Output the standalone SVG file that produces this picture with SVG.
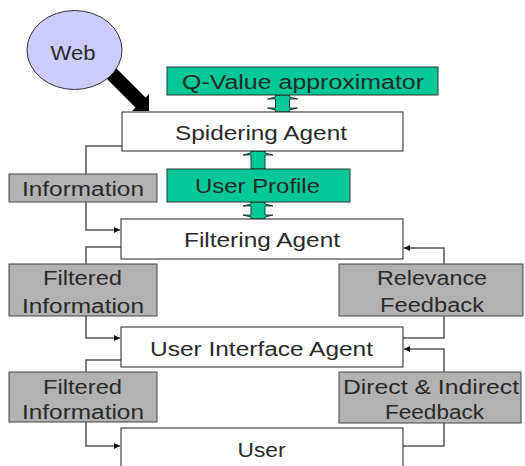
<svg xmlns="http://www.w3.org/2000/svg" width="525" height="466" viewBox="0 0 525 466">
<defs>
<style>
.t{font-family:"Liberation Sans",Arial,sans-serif;font-size:20px;fill:#2a2a2a;text-anchor:middle}
.wb{fill:#fff;stroke:#222;stroke-width:1}
.gb{fill:#B2B2B2;stroke:#444;stroke-width:1}
.gr{fill:#00C896;stroke:#333;stroke-width:1}
.ln{fill:none;stroke:#555;stroke-width:1.5}
.ga{fill:#00C896;stroke:#111;stroke-width:0.8}
</style>
<marker id="ah" viewBox="0 0 10 10" refX="10" refY="5" markerWidth="7" markerHeight="6" markerUnits="userSpaceOnUse" orient="auto">
<path d="M0,0 L10,5 L0,10 Z" fill="#111"/>
</marker>
</defs>
<rect width="525" height="466" fill="#fff"/>

<g id="connectors">
<polyline class="ln" points="122,146 86,146 86,174"/>
<polyline class="ln" points="86,202 86,230 120,230" marker-end="url(#ah)"/>
<polyline class="ln" points="121,247 86,247 86,264"/>
<polyline class="ln" points="86,316 86,338 120,338" marker-end="url(#ah)"/>
<polyline class="ln" points="121,360 86,360 86,372"/>
<polyline class="ln" points="86,422 86,446 120,446" marker-end="url(#ah)"/>
<polyline class="ln" points="403,338 444,338 444,316"/>
<polyline class="ln" points="444,264 444,248 404,248" marker-end="url(#ah)"/>
<polyline class="ln" points="403,446 444,446 444,423"/>
<polyline class="ln" points="444,372 444,349 404,349" marker-end="url(#ah)"/>
<polygon points="115,67 145.5,97.5 149,94 149,111 132,111 135.5,107.5 105,77" fill="#000"/>
<path class="ga" d="M275.5,95 L289.5,95 L289.5,97 L297.5,99 L289.5,99 L289.5,108 L297.5,108 L289.5,110 L289.5,112 L275.5,112 L275.5,110 L267.5,108 L275.5,108 L275.5,99 L267.5,99 L275.5,97 Z"/>
<path class="ga" d="M251,151 L265,151 L265,153 L273,155 L265,155 L265,169 L251,169 L251,155 L243,155 L251,153 Z"/>
<path class="ga" d="M251,202 L265,202 L265,204 L273,206 L265,206 L265,215 L273,215 L265,217 L265,219 L251,219 L251,217 L243,215 L251,215 L251,206 L243,206 L251,204 Z"/>
</g>

<g id="web">
<ellipse cx="74.5" cy="50" rx="47.5" ry="39.5" fill="#CCCCFF" stroke="#333" stroke-width="1"/>
<text class="t" x="73" y="60" textLength="45" lengthAdjust="spacingAndGlyphs">Web</text>
</g>

<g id="qvalue">
<rect class="gr" x="167" y="67" width="271" height="28"/>
<text class="t" x="303" y="89" textLength="242" lengthAdjust="spacingAndGlyphs">Q-Value approximator</text>
</g>

<g id="spidering">
<rect class="wb" x="122" y="112" width="281" height="39"/>
<text class="t" x="261" y="140" textLength="172" lengthAdjust="spacingAndGlyphs">Spidering Agent</text>
</g>

<g id="profile">
<rect class="gr" x="167" y="169" width="183" height="33"/>
<text class="t" x="257.5" y="193" textLength="125" lengthAdjust="spacingAndGlyphs">User Profile</text>
</g>

<g id="information">
<rect class="gb" x="9" y="174" width="148" height="28"/>
<text class="t" x="83" y="196" textLength="122" lengthAdjust="spacingAndGlyphs">Information</text>
</g>

<g id="filtering">
<rect class="wb" x="121" y="219" width="282" height="40"/>
<text class="t" x="262" y="247" textLength="156" lengthAdjust="spacingAndGlyphs">Filtering Agent</text>
</g>

<g id="filtered1">
<rect class="gb" x="9" y="264" width="148" height="52"/>
<text class="t" x="82.5" y="285" textLength="79" lengthAdjust="spacingAndGlyphs">Filtered</text>
<text class="t" x="83" y="313" textLength="122" lengthAdjust="spacingAndGlyphs">Information</text>
</g>

<g id="relevance">
<rect class="gb" x="339" y="264" width="184" height="52"/>
<text class="t" x="432" y="285" textLength="110" lengthAdjust="spacingAndGlyphs">Relevance</text>
<text class="t" x="432" y="312" textLength="104" lengthAdjust="spacingAndGlyphs">Feedback</text>
</g>

<g id="uia">
<rect class="wb" x="121" y="327" width="282" height="40"/>
<text class="t" x="261.5" y="356" textLength="223" lengthAdjust="spacingAndGlyphs">User Interface Agent</text>
</g>

<g id="filtered2">
<rect class="gb" x="9" y="372" width="148" height="50"/>
<text class="t" x="82.5" y="394" textLength="79" lengthAdjust="spacingAndGlyphs">Filtered</text>
<text class="t" x="83" y="419" textLength="122" lengthAdjust="spacingAndGlyphs">Information</text>
</g>

<g id="direct">
<rect class="gb" x="339" y="372" width="182" height="51"/>
<text class="t" x="431" y="394" textLength="176" lengthAdjust="spacingAndGlyphs">Direct &amp; Indirect</text>
<text class="t" x="434.5" y="419" textLength="99" lengthAdjust="spacingAndGlyphs">Feedback</text>
</g>

<g id="user">
<rect class="wb" x="121" y="428" width="282" height="45"/>
<text class="t" x="261.5" y="457" textLength="48" lengthAdjust="spacingAndGlyphs">User</text>
</g>
</svg>
